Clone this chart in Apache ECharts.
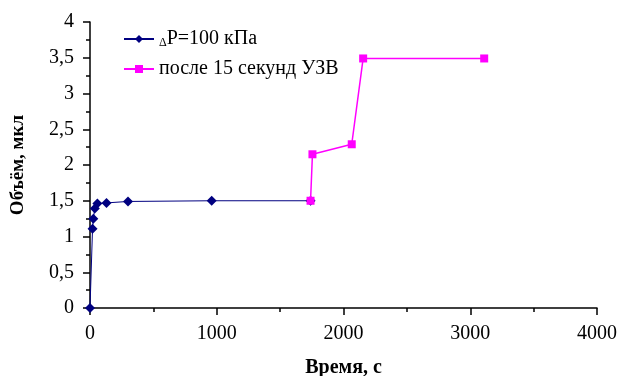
<!DOCTYPE html>
<html>
<head>
<meta charset="utf-8">
<script src="https://cdn.jsdelivr.net/npm/echarts@6/dist/echarts.min.js"></script>
<style>
  html, body { margin: 0; padding: 0; background: #fff; }
  #chart { width: 620px; height: 376px; }
</style>
</head>
<body>
<div id="chart"></div>
<script>
// values: [time s, volume]
const pressureName = 'ΔP=100 кПа';
const afterName = 'после 15 секунд УЗВ';
const pressureTime = [0, 20, 26, 38, 58, 130, 300, 960, 1740];
const pressureVol = [0, 1.11, 1.25, 1.39, 1.46, 1.47, 1.49, 1.50, 1.50];
const afterTime = [1740, 1755, 2065, 2155, 3110];
const afterVol = [1.50, 2.15, 2.29, 3.49, 3.49];
const xTicks = [0, 1000, 2000, 3000, 4000];
const yTicks = [0, 0.5, 1, 1.5, 2, 2.5, 3, 3.5, 4];

const chart = echarts.init(document.getElementById('chart'), null, { renderer: 'canvas' });
const font = "'Liberation Serif', 'DejaVu Serif', serif";

const option = {
  animation: false,
  backgroundColor: '#fff',
  textStyle: { fontFamily: font },
  grid: { left: 90, right: 23, top: 22, bottom: 68, containLabel: false, outerBoundsMode: 'none' },
  legend: {
    left: 118,
    top: 24,
    orient: 'vertical',
    itemWidth: 30,
    itemHeight: 10,
    itemGap: 10,
    data: [pressureName, afterName],
    formatter: function (name) {
      if (name === pressureName) return '{s|Δ}{n|P=100 кПа}';
      return '{n|' + name + '}';
    },
    textStyle: {
      fontFamily: font, fontSize: 20, color: '#000',
      rich: {
        s: { fontFamily: font, fontSize: 12, color: '#000', verticalAlign: 'bottom', padding: [7, 0, 0, 0] },
        n: { fontFamily: font, fontSize: 20, color: '#000' }
      }
    }
  },
  xAxis: {
    type: 'value',
    min: xTicks[0],
    max: xTicks[xTicks.length - 1],
    interval: 1000,
    name: 'Время, с',
    nameLocation: 'middle',
    nameGap: 50,
    nameTextStyle: { fontFamily: font, fontSize: 20, fontWeight: 'bold', color: '#000' },
    axisLine: { show: true, onZero: false, lineStyle: { color: '#000', width: 1.5 } },
    axisTick: { show: true, inside: false, length: 7, lineStyle: { color: '#000', width: 1.5 } },
    minorTick: { show: true, splitNumber: 2, length: 4, lineStyle: { color: '#000', width: 1.5 } },
    splitLine: { show: false },
    axisLabel: {
      fontFamily: font, fontSize: 20, color: '#000', margin: 16,
      formatter: function (v) { return String(v); }
    }
  },
  yAxis: {
    type: 'value',
    min: yTicks[0],
    max: yTicks[yTicks.length - 1],
    interval: 0.5,
    name: 'Объём, мкл',
    nameLocation: 'middle',
    nameGap: 62,
    nameTextStyle: { fontFamily: font, fontSize: 19, fontWeight: 'bold', color: '#000' },
    axisLine: { show: true, lineStyle: { color: '#000', width: 1.5 } },
    axisTick: { show: true, inside: false, length: 7, lineStyle: { color: '#000', width: 1.5 } },
    minorTick: { show: true, splitNumber: 2, length: 4, lineStyle: { color: '#000', width: 1.5 } },
    splitLine: { show: false },
    axisLabel: {
      fontFamily: font, fontSize: 20, color: '#000', margin: 16,
      formatter: function (v) { return String(v).replace('.', ','); }
    }
  },
  series: [
    {
      name: pressureName,
      type: 'line',
      data: pressureTime.map((t, i) => [t, pressureVol[i]]),
      symbol: 'diamond',
      symbolSize: 10,
      color: '#000080',
      lineStyle: { color: '#000080', width: 1 },
      itemStyle: { color: '#000080' },
      z: 2
    },
    {
      name: afterName,
      type: 'line',
      data: afterTime.map((t, i) => [t, afterVol[i]]),
      symbol: 'rect',
      symbolSize: 8,
      color: '#ff00ff',
      lineStyle: { color: '#ff00ff', width: 1.5 },
      itemStyle: { color: '#ff00ff' },
      z: 3
    }
  ]
};

chart.setOption(option);
</script>
</body>
</html>
